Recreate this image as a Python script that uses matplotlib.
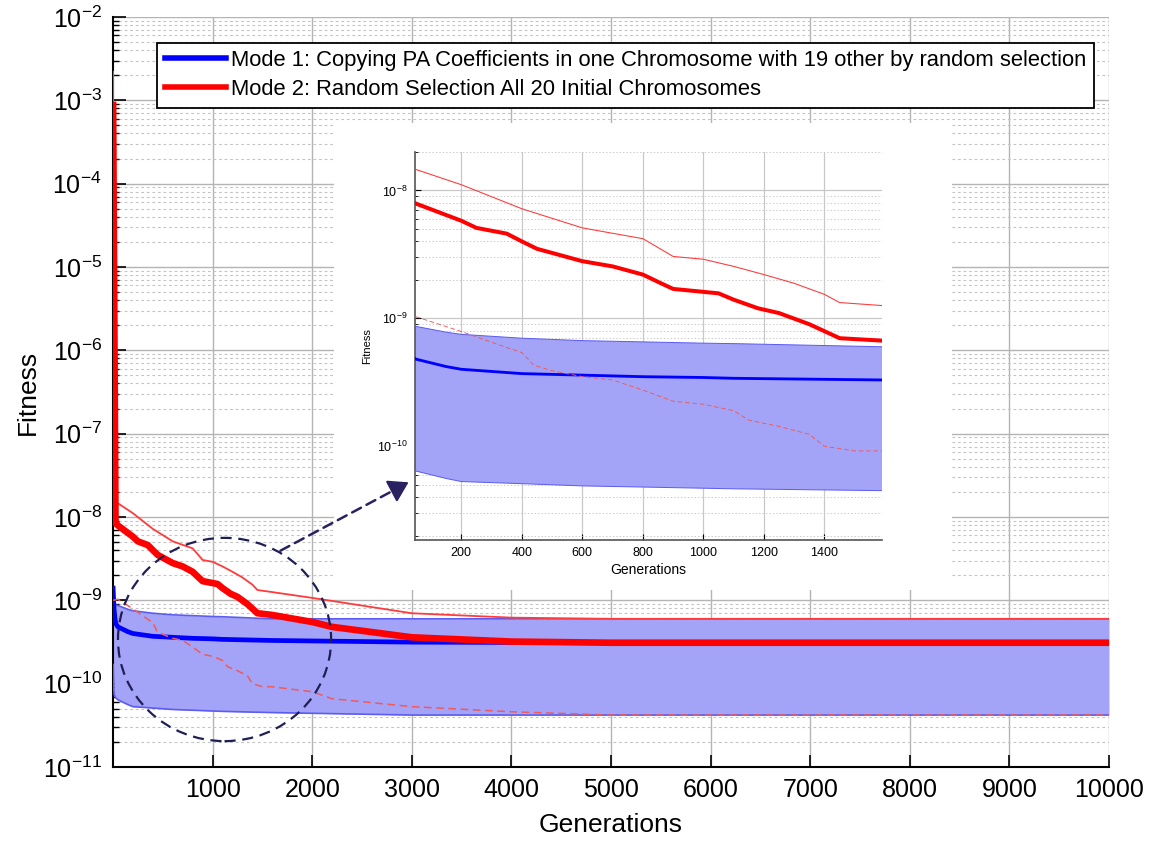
import numpy as np
import matplotlib
matplotlib.use('Agg')
import matplotlib.pyplot as plt
from matplotlib.patches import Ellipse, Rectangle, FancyArrowPatch
from matplotlib.lines import Line2D
from matplotlib.ticker import LogLocator, NullFormatter

plt.rcParams['font.family'] = ['Liberation Sans', 'DejaVu Sans']
plt.rcParams['mathtext.fontset'] = 'custom'
plt.rcParams['mathtext.rm'] = 'Liberation Sans'
plt.rcParams['mathtext.it'] = 'Liberation Sans'

# mode 2 (random selection of all 20 chromosomes)
red_mean_x = [1, 15, 25, 50, 200, 250, 350, 400, 450, 600, 700, 800, 860, 900, 1050, 1100,
              1180, 1250, 1350, 1450, 1590, 2000, 2200, 3000, 4000, 5000, 10000]
red_mean_y = [8.8e-4, 1e-6, 8.5e-9, 7.9e-9, 5.8e-9, 5.1e-9, 4.6e-9, 4.0e-9, 3.5e-9, 2.8e-9,
              2.55e-9, 2.2e-9, 1.88e-9, 1.7e-9, 1.57e-9, 1.4e-9, 1.2e-9, 1.1e-9, 0.9e-9,
              0.7e-9, 0.67e-9, 5.5e-10, 4.8e-10, 3.6e-10, 3.2e-10, 3.1e-10, 3.1e-10]

red_worst_x = [1, 5, 20, 50, 200, 400, 600, 800, 900, 1000, 1100, 1200, 1300, 1400, 1450,
               1590, 2000, 3000, 4000, 5000, 10000]
red_worst_y = [2.2e-3, 2.5e-5, 1.6e-8, 1.46e-8, 1.11e-8, 7.2e-9, 5.1e-9, 4.2e-9, 3.05e-9,
               2.9e-9, 2.55e-9, 2.2e-9, 1.88e-9, 1.54e-9, 1.33e-9, 1.26e-9, 1.07e-9,
               7.0e-10, 6.2e-10, 6.0e-10, 6.0e-10]

red_best_x = [1, 50, 200, 300, 400, 440, 500, 600, 700, 800, 900, 1000, 1100, 1150, 1250,
              1350, 1400, 1500, 1590, 2000, 2200, 3000, 4000, 5000, 10000]
red_best_y = [1.0e-9, 1.03e-9, 7.9e-10, 6.5e-10, 5.4e-10, 4.3e-10, 3.9e-10, 3.5e-10, 3.3e-10,
              2.75e-10, 2.25e-10, 2.13e-10, 1.9e-10, 1.6e-10, 1.43e-10, 1.24e-10, 1.0e-10,
              9.2e-11, 9.2e-11, 8.0e-11, 6.6e-11, 5.3e-11, 4.6e-11, 4.2e-11, 4.2e-11]

# mode 1 (copying PA coefficients)
blue_x = [1, 10, 20, 30, 50, 150, 200, 400, 600, 800, 1000, 1100, 1590, 3000, 5000, 10000]
blue_mean = [1.4e-9, 8e-10, 6e-10, 5.2e-10, 4.8e-10, 4.2e-10, 4.0e-10, 3.7e-10, 3.6e-10,
             3.5e-10, 3.45e-10, 3.4e-10, 3.3e-10, 3.15e-10, 3.1e-10, 3.1e-10]
blue_upper = [1.35e-9, 9.5e-10, 9e-10, 8.8e-10, 8.66e-10, 7.8e-10, 7.5e-10, 7.0e-10, 6.7e-10,
              6.55e-10, 6.4e-10, 6.35e-10, 6.0e-10, 6.0e-10, 6.0e-10, 6.0e-10]
blue_lower = [1.7e-10, 7.5e-11, 7e-11, 6.7e-11, 6.4e-11, 5.6e-11, 5.3e-11, 5.1e-11, 4.9e-11,
              4.8e-11, 4.7e-11, 4.65e-11, 4.5e-11, 4.2e-11, 4.2e-11, 4.2e-11]

leg_labels = ['Mode 1: Copying PA Coefficients in one Chromosome with 19 other by random selection',
              'Mode 2: Random Selection All 20 Initial Chromosomes']

W, H = 1150, 843
fig = plt.figure(figsize=(W / 100, H / 100), dpi=100)


def fbox(l, t, r, b):
    return [l / W, 1 - b / H, (r - l) / W, (b - t) / H]


def draw_curves(ax, lw_scale):
    ax.fill_between(blue_x, blue_lower, blue_upper, color='#a3a3f7', lw=0, zorder=2)
    ax.plot(blue_x, blue_upper, color='#5c5cf2', lw=1.2 * lw_scale, zorder=3)
    ax.plot(blue_x, blue_lower, color='#5c5cf2', lw=1.2 * lw_scale, zorder=3)
    ax.plot(blue_x, blue_mean, color='#0000ff', lw=3.4 * lw_scale, zorder=4)
    ax.plot(red_worst_x, red_worst_y, color='#ff3b3b', lw=1.3 * lw_scale, zorder=5)
    ax.plot(red_best_x, red_best_y, color='#f05a5a', lw=1.1 * lw_scale, ls=(0, (5, 3)), zorder=5)
    ax.plot(red_mean_x, red_mean_y, color='#ff0000', lw=4.8 * lw_scale, zorder=6)


def style_grid(ax):
    ax.grid(True, which='major', color='#b4b4b4', lw=1.0, ls='-')
    ax.grid(True, which='minor', axis='y', color='#c4c4c4', lw=0.8, ls=(0, (2.5, 2.5)))
    ax.set_axisbelow(True)
    for s in ['top', 'right']:
        ax.spines[s].set_visible(False)


# main axes
ax = fig.add_axes(fbox(113, 17, 1109, 767))
draw_curves(ax, 1.0)
ax.set_yscale('log')
ax.set_xlim(0, 10000)
ax.set_ylim(1e-11, 1e-2)
ax.set_xticks(range(1000, 10001, 1000))
ax.set_yticks([10.0 ** k for k in range(-11, -1)])
ax.set_yticklabels(['$10^{%d}$' % k for k in range(-11, -1)])
ax.yaxis.set_minor_locator(LogLocator(base=10, subs=np.arange(2, 10), numticks=20))
ax.yaxis.set_minor_formatter(NullFormatter())
ax.tick_params(which='major', direction='in', length=9, width=1.2, labelsize=18, pad=8)
ax.tick_params(which='minor', direction='in', length=4, width=1.0)
for s in ['left', 'bottom']:
    ax.spines[s].set_linewidth(1.5)
style_grid(ax)
ax.set_xlabel('Generations', fontsize=19, labelpad=8)
ax.set_ylabel('Fitness', fontsize=19, labelpad=2)

handles = [Line2D([], [], color='#0000ff', lw=4), Line2D([], [], color='#ff0000', lw=4)]
leg = ax.legend(handles, leg_labels, loc='upper left', bbox_to_anchor=(0.044, 0.966),
                fontsize=15.8, frameon=True, fancybox=False, framealpha=1,
                edgecolor='black', handlelength=2.8, handletextpad=0.25,
                borderpad=0.35, labelspacing=0.35, borderaxespad=0)
leg.get_frame().set_linewidth(1.3)

# white panel behind the zoomed view
fig.patches.append(Rectangle((334 / W, 1 - 590 / H), (952 - 334) / W, (590 - 123) / H,
                             transform=fig.transFigure, facecolor='white',
                             edgecolor='none', zorder=1))

# inset
axin = fig.add_axes(fbox(415, 152, 882, 540))
axin.set_zorder(3)
draw_curves(axin, 0.6)
axin.set_yscale('log')
axin.set_xlim(47, 1590)
axin.set_ylim(1.85e-11, 2e-8)
axin.set_xticks(range(200, 1401, 200))
axin.set_yticks([1e-10, 1e-9, 1e-8])
axin.set_yticklabels(['$10^{-10}$', '$10^{-9}$', '$10^{-8}$'])
axin.yaxis.set_minor_locator(LogLocator(base=10, subs=np.arange(2, 10), numticks=20))
axin.yaxis.set_minor_formatter(NullFormatter())
axin.tick_params(which='major', direction='in', length=4, width=0.8, labelsize=9, pad=5)
axin.tick_params(which='minor', direction='in', length=2, width=0.6)
axin.grid(True, which='major', color='#c8c8c8', lw=0.9, ls='-')
axin.grid(True, which='minor', axis='y', color='#cccccc', lw=0.7, ls=(0, (1.5, 2)))
axin.set_axisbelow(True)
for s in ['top', 'right']:
    axin.spines[s].set_visible(False)
for s in ['left', 'bottom']:
    axin.spines[s].set_color('#555555')
    axin.spines[s].set_linewidth(1.2)
axin.set_xlabel('Generations', fontsize=10, labelpad=3)
axin.set_ylabel('Fitness', fontsize=8, labelpad=4)

# dashed circle around the zoomed region and arrow to the inset
ax.add_patch(Ellipse((0.112, 0.170), 0.214, 0.271, transform=ax.transAxes, fill=False,
                     edgecolor='#1f1f55', lw=1.6, ls=(0, (5, 3)), zorder=8, clip_on=False))
fig.patches.append(FancyArrowPatch((278 / W, 1 - 552 / H), (398 / W, 1 - 488 / H),
                                   transform=fig.transFigure, arrowstyle='-',
                                   color='#2a2160', lw=1.8, ls=(0, (4, 2.5)), zorder=4))
fig.patches.append(FancyArrowPatch((392 / W, 1 - 491 / H), (411 / W, 1 - 481 / H),
                                   transform=fig.transFigure, arrowstyle='-|>,head_length=8,head_width=5',
                                   mutation_scale=1.5, color='#2a2160', lw=1.5, zorder=4))

fig.savefig('out.png', dpi=100)
